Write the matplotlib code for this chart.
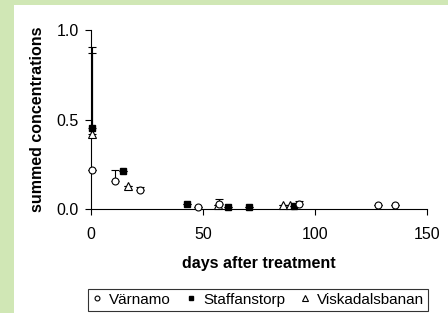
import matplotlib
matplotlib.use("Agg")
import matplotlib.pyplot as plt
from matplotlib.patches import Rectangle

plt.rcParams['font.family'] = ['Liberation Sans', 'DejaVu Sans']

# data
varnamo_x = [0.5, 10.7, 21.9, 47.8, 57.0, 92.9, 128.0, 135.7]
varnamo_y = [0.22, 0.155, 0.105, 0.01, 0.03, 0.03, 0.025, 0.025]
varnamo_err = [0.0, 0.065, 0.02, 0.0, 0.025, 0.015, 0.0, 0.0]

staff_x = [0.5, 14.3, 42.9, 61.0, 70.5, 90.6]
staff_y = [0.45, 0.21, 0.027, 0.012, 0.012, 0.015]
staff_err = [0.455, 0.0, 0.0, 0.0, 0.0, 0.0]

visk_x = [0.5, 16.6, 56.7, 85.7, 88.8]
visk_y = [0.42, 0.13, 0.025, 0.02, 0.02]
visk_err = [0.45, 0.0, 0.0, 0.0, 0.0]


def upper(err):
    # only the upper half of each error bar is visible
    return [[0] * len(err), err]


fig = plt.figure(figsize=(4.48, 3.13), dpi=100)
fig.patch.set_facecolor('#d0e7b5')
fig.patches.append(Rectangle((14 / 448, 0), 1, 1 - 5 / 313, transform=fig.transFigure,
                             facecolor='white', edgecolor='none', zorder=-1))

ax = fig.add_axes([91 / 448, 104 / 313, 336 / 448, 179 / 313])
ax.patch.set_alpha(0)

common = dict(ecolor='black', elinewidth=0.8, capsize=3, capthick=0.8, clip_on=False)
ax.errorbar(visk_x, visk_y, yerr=upper(visk_err), fmt='^', mfc='white', mec='black',
            ms=5.5, mew=0.8, label='Viskadalsbanan', zorder=3, **common)
ax.errorbar(staff_x, staff_y, yerr=upper(staff_err), fmt='s', mfc='black', mec='black',
            ms=5, label='Staffanstorp', zorder=4, **common)
ax.errorbar(varnamo_x, varnamo_y, yerr=upper(varnamo_err), fmt='o', mfc='white', mec='black',
            ms=5, mew=0.8, label='Värnamo', zorder=5, **common)

ax.set_xlim(0, 150)
ax.set_ylim(0, 1.0)
ax.set_xticks([0, 50, 100, 150])
ax.set_yticks([0.0, 0.5, 1.0])
ax.set_yticklabels(['0.0', '0.5', '1.0'])
ax.spines['top'].set_visible(False)
ax.spines['right'].set_visible(False)
ax.tick_params(direction='out', length=4, labelsize=11.5, width=0.8)
ax.tick_params(axis='x', pad=9)
ax.tick_params(axis='y', pad=5)
ax.set_xlabel('days after treatment', fontsize=11.5, fontweight='bold', labelpad=10)
ax.set_ylabel('summed concentrations', fontsize=11.5, fontweight='bold', labelpad=8)

h, l = ax.get_legend_handles_labels()
order = [2, 1, 0]
leg = fig.legend([h[i][0] for i in order], [l[i] for i in order],
                 loc='upper center', bbox_to_anchor=(258 / 448, 24 / 313), ncol=3,
                 fontsize=11, frameon=True, fancybox=False, edgecolor='black',
                 markerscale=0.7, handlelength=0.7, handletextpad=0.45,
                 columnspacing=0.95, borderpad=0.25, borderaxespad=0)
leg.get_frame().set_linewidth(0.8)

fig.savefig('out.png', dpi=100, facecolor=fig.get_facecolor())
